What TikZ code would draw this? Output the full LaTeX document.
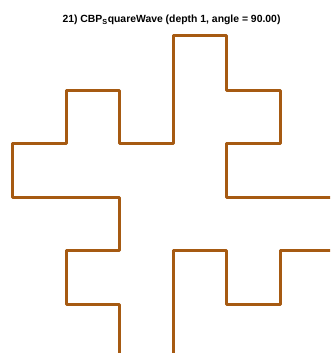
\documentclass[tikz,border=0pt]{standalone}
\usepackage{fontspec}
\setmainfont{Liberation Sans}
\definecolor{curve}{RGB}{166,90,18}
\begin{document}
\begin{tikzpicture}[x=1pt,y=-1pt,
  curveline/.style={draw=curve,line width=3pt,line join=round,line cap=round},
  titletext/.style={font=\bfseries\fontsize{10.4}{12}\selectfont,anchor=base,inner sep=0pt}]
\useasboundingbox (0,0) rectangle (330,353);
\node[titletext] (title) at (171.5,23) {21) CBP\textsubscript{S}quareWave (depth 1, angle = 90.00)};
\begin{scope}
\clip (0,0) rectangle (330,353);
\coordinate (a0) at (119,360);
\coordinate (b0) at (173,360);
\draw[curveline] (a0) -- (119,304) -- (66,304) -- (66,250) -- (119,250) -- (119,197)
  -- (12,197) -- (12,143) -- (66,143) -- (66,90) -- (119,90) -- (119,143) -- (173,143)
  -- (173,36) -- (226,36) -- (226,90) -- (280,90) -- (280,143) -- (226,143) -- (226,197)
  -- (340,197);
\draw[curveline] (b0) -- (173,250) -- (226,250) -- (226,304) -- (280,304) -- (280,250) -- (340,250);
\end{scope}
\end{tikzpicture}
\end{document}
